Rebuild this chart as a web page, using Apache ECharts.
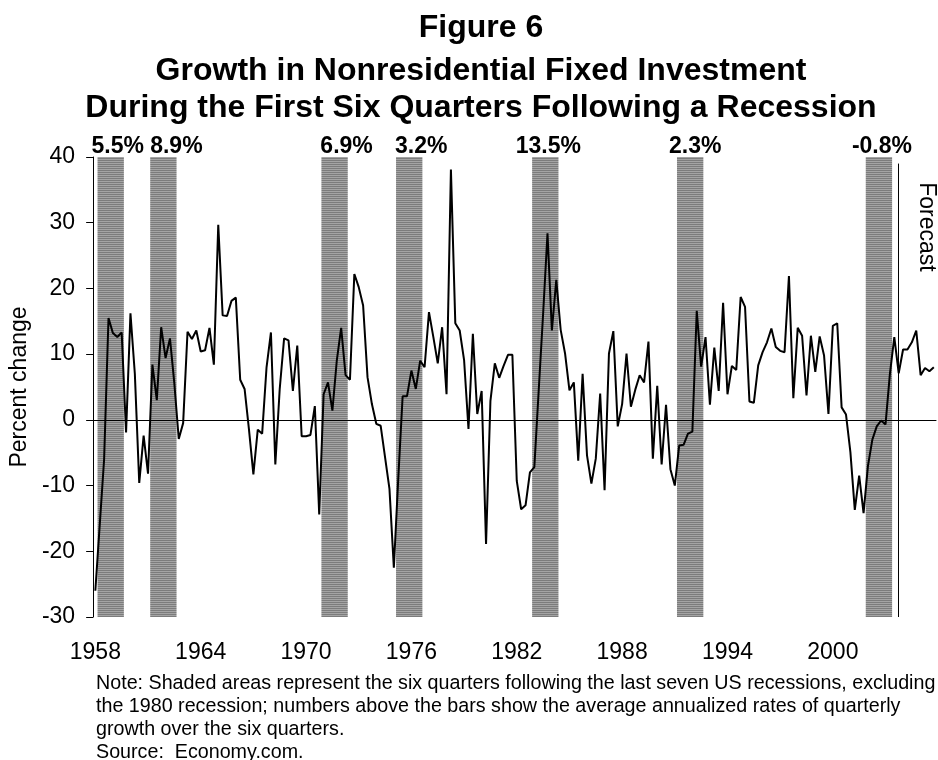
<!DOCTYPE html>
<html>
<head>
<meta charset="utf-8">
<script src="https://cdn.jsdelivr.net/npm/echarts@6/dist/echarts.min.js"></script>
<style>
  html, body { margin: 0; padding: 0; background: #fff; }
  #chart { width: 938px; height: 760px; }
</style>
</head>
<body>
<div id="chart"></div>
<script>
// quarterly growth, annualized %, 1958Q1 - 2005Q4
const growth = [
  -26.0, -16.0, -6.0, 15.5, 13.2, 12.6, 13.3, -1.9, 16.2, 7.0,
  -9.6, -2.4, -8.2, 8.4, 3.0, 14.1, 9.4, 12.4, 5.5, -2.9,
  -0.5, 13.4, 12.3, 13.6, 10.4, 10.6, 14.0, 8.4, 29.7, 15.9,
  15.8, 18.1, 18.6, 6.1, 4.7, -1.5, -8.3, -1.5, -2.1, 8.0,
  13.3, -6.8, 4.7, 12.4, 12.1, 4.4, 11.3, -2.5, -2.5, -2.3,
  2.1, -14.4, 3.9, 5.7, 1.4, 9.0, 14.0, 6.8, 6.1, 22.2,
  20.2, 17.4, 6.5, 2.4, -0.6, -0.9, -5.7, -10.5, -22.5, -9.0,
  3.6, 3.6, 7.5, 4.7, 9.0, 8.0, 16.4, 12.6, 8.6, 14.1,
  3.9, 38.1, 14.7, 13.6, 9.1, -1.4, 13.1, 0.9, 4.4, -18.9,
  2.9, 8.6, 6.4, 8.2, 9.9, 9.9, -9.3, -13.6, -13.0, -8.0,
  -7.2, 4.5, 16.1, 28.4, 13.6, 21.3, 13.7, 10.1, 4.5, 5.7,
  -6.2, 7.0, -5.4, -9.7, -5.9, 4.0, -10.7, 10.1, 13.5, -1.0,
  2.4, 10.1, 2.0, 4.6, 6.8, 5.7, 11.9, -5.9, 5.2, -6.8,
  2.3, -7.5, -10.0, -3.9, -3.8, -2.1, -1.8, 16.6, 8.1, 12.6,
  2.3, 11.0, 4.4, 17.8, 3.9, 8.2, 7.6, 18.7, 17.2, 2.8,
  2.6, 8.3, 10.3, 11.8, 13.9, 11.1, 10.5, 10.3, 21.9, 3.3,
  14.0, 12.8, 3.7, 12.8, 7.3, 12.7, 9.8, 0.9, 14.3, 14.7,
  1.9, 0.8, -4.9, -13.7, -8.5, -14.2, -7.0, -3.0, -1.0, -0.1,
  -0.7, 7.0, 12.6, 7.1, 10.7, 10.7, 11.8, 13.6, 6.8, 7.9,
  7.4, 8.0
];

// six quarters following each recession (first, last quarter)
const bandStart = ['1958Q2', '1961Q2', '1971Q1', '1975Q2', '1983Q1', '1991Q2', '2002Q1'];
const bandEnd   = ['1959Q3', '1962Q3', '1972Q2', '1976Q3', '1984Q2', '1992Q3', '2003Q2'];
const bandLabels = ['5.5%', '8.9%', '6.9%', '3.2%', '13.5%', '2.3%', '-0.8%'];

const forecastStart = '2003Q4';
const zeroLineEnd = '2005Q1';
const yMin = -30, yMax = 40;

// labels in the original sit a little right of the band centres
const labelNudge = [7, 13, 12, 12, 3, 5, 3];

const quarters = [];
for (let y = 1958; y <= 2005; y++) {
  for (let q = 1; q <= 4; q++) quarters.push(y + 'Q' + q);
}

// striped gray fill like the original
const pat = document.createElement('canvas');
pat.width = 2; pat.height = 2;
const pctx = pat.getContext('2d');
pctx.fillStyle = '#7c7c7c'; pctx.fillRect(0, 0, 2, 1);
pctx.fillStyle = '#a4a4a4'; pctx.fillRect(0, 1, 2, 1);
const stripe = { image: pat, repeat: 'repeat' };

const FONT = 'Liberation Sans, Arial, Helvetica, sans-serif';
const titleStyle = { fontSize: 32, fontWeight: 'bold', fontFamily: FONT, fill: '#000', align: 'center', verticalAlign: 'middle' };

const chart = echarts.init(document.getElementById('chart'));

chart.setOption({
  animation: false,
  backgroundColor: '#fff',
  textStyle: { fontFamily: FONT, color: '#000' },
  grid: { left: 90, right: 2, top: 157, height: 460 },
  xAxis: {
    type: 'category',
    data: quarters,
    boundaryGap: true,
    axisLine: { lineStyle: { color: '#000', width: 1 } },
    axisTick: { interval: 23, length: 7, lineStyle: { color: '#000' } },
    axisLabel: {
      interval: 23,
      margin: 24,
      fontSize: 23,
      color: '#000',
      fontFamily: FONT,
      formatter: (v) => v.slice(0, 4)
    },
    splitLine: { show: false }
  },
  yAxis: {
    type: 'value',
    min: yMin,
    max: yMax,
    interval: 10,
    name: 'Percent change',
    nameLocation: 'middle',
    nameRotate: 90,
    nameGap: 55,
    nameTextStyle: { fontSize: 23, color: '#000', fontFamily: FONT },
    axisLine: { show: true, lineStyle: { color: '#000', width: 1 } },
    axisTick: { show: true, length: 7, lineStyle: { color: '#000' } },
    axisLabel: { fontSize: 23, color: '#000', margin: 18, fontFamily: FONT },
    splitLine: { show: false }
  },
  series: [
    {
      // one shaded block per recovery, label on top
      name: 'Recovery',
      type: 'custom',
      silent: true,
      z: 1,
      data: bandStart.map((s, i) => [s, bandEnd[i]]),
      encode: { x: [0, 1] },
      renderItem: (params, api) => {
        const w = api.size([1, 0])[0];
        const top = api.coord([api.value(0), yMax]);
        const bot = api.coord([api.value(1), yMin]);
        const x0 = top[0] - w / 2;
        const x1 = bot[0] + w / 2;
        return {
          type: 'group',
          children: [
            {
              type: 'rect',
              shape: { x: x0, y: top[1], width: x1 - x0, height: bot[1] - top[1] },
              style: { fill: stripe }
            },
            {
              type: 'text',
              x: (x0 + x1) / 2 + labelNudge[params.dataIndex],
              y: top[1] + 1,
              style: {
                text: bandLabels[params.dataIndex],
                fontSize: 23,
                fontWeight: 'bold',
                fontFamily: FONT,
                fill: '#000',
                align: 'center',
                verticalAlign: 'bottom'
              }
            }
          ]
        };
      }
    },
    {
      name: 'Growth',
      type: 'line',
      data: growth,
      showSymbol: false,
      symbol: 'none',
      lineStyle: { color: '#000', width: 2 },
      z: 3,
      markLine: {
        silent: true,
        symbol: 'none',
        label: { show: false },
        lineStyle: { color: '#000', width: 1, type: 'solid' },
        data: [
          [{ coord: [quarters[0], 0] }, { coord: [zeroLineEnd, 0] }],
          [{ coord: [forecastStart, 39] }, { coord: [forecastStart, yMin] }]
        ]
      }
    }
  ],
  graphic: [
    { type: 'text', x: 481, y: 28, style: Object.assign({ text: 'Figure 6' }, titleStyle) },
    { type: 'text', x: 481, y: 71, style: Object.assign({ text: 'Growth in Nonresidential Fixed Investment' }, titleStyle) },
    { type: 'text', x: 481, y: 108, style: Object.assign({ text: 'During the First Six Quarters Following a Recession' }, titleStyle) },
    {
      type: 'text',
      x: 926,
      y: 227,
      rotation: -Math.PI / 2,
      style: {
        text: 'Forecast',
        fontSize: 23,
        fontFamily: FONT,
        fill: '#000',
        align: 'center',
        verticalAlign: 'middle'
      }
    },
    {
      type: 'text',
      left: 96,
      top: 672,
      style: {
        text: 'Note: Shaded areas represent the six quarters following the last seven US recessions, excluding\n' +
              'the 1980 recession; numbers above the bars show the average annualized rates of quarterly\n' +
              'growth over the six quarters.\n' +
              'Source:  Economy.com.',
        fontSize: 19.7,
        lineHeight: 23,
        fontFamily: FONT,
        fill: '#000'
      }
    }
  ]
});
</script>
</body>
</html>
